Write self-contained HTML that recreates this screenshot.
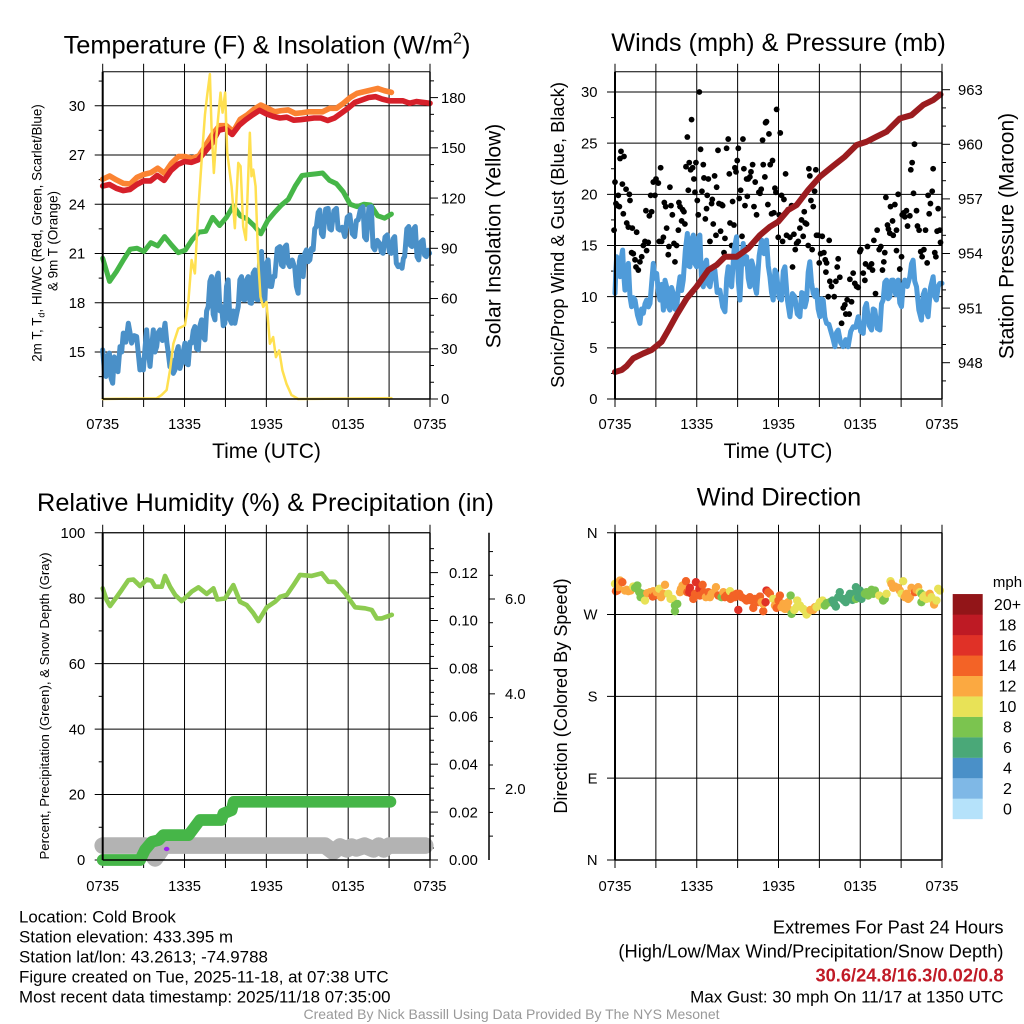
<!DOCTYPE html>
<html lang="en">
<head>
<meta charset="utf-8">
<title>Cold Brook Meteogram</title>
<style>
html,body{margin:0;padding:0;background:#fff;}
svg{display:block;font-family:"Liberation Sans",sans-serif;fill:#000;}
</style>
</head>
<body>
<svg id="chart" width="1024" height="1024" viewBox="0 0 1024 1024" xmlns="http://www.w3.org/2000/svg">
  <rect x="0" y="0" width="1024" height="1024" fill="#fff"/>
  <text x="267" y="53.5" font-size="25.4" text-anchor="middle">Temperature (F) &amp; Insolation (W/m<tspan font-size="16" dy="-10">2</tspan><tspan dy="10">)</tspan></text>
  <text x="778.5" y="51" font-size="25.3" text-anchor="middle">Winds (mph) &amp; Pressure (mb)</text>
  <text x="265.5" y="511" font-size="25.3" text-anchor="middle">Relative Humidity (%) &amp; Precipitation (in)</text>
  <text x="779" y="505.5" font-size="25.3" text-anchor="middle">Wind Direction</text>

  <text x="266.5" y="458" font-size="21" text-anchor="middle">Time (UTC)</text>
  <text x="778" y="458" font-size="21" text-anchor="middle">Time (UTC)</text>

  <text transform="translate(41.5 233) rotate(-90)" font-size="13.4" text-anchor="middle">2m T, T<tspan font-size="9" dy="3">d</tspan><tspan dy="-3">, HI/WC (Red, Green, Scarlet/Blue)</tspan></text>
  <text transform="translate(57.5 241) rotate(-90)" font-size="13.4" text-anchor="middle">&amp; 9m T (Orange)</text>
  <text transform="translate(500.5 236) rotate(-90)" font-size="21" text-anchor="middle">Solar Insolation (Yellow)</text>
  <text transform="translate(564 235) rotate(-90)" font-size="18.3" text-anchor="middle">Sonic/Prop Wind &amp; Gust (Blue, Black)</text>
  <text transform="translate(1013.5 236) rotate(-90)" font-size="21" text-anchor="middle">Station Pressure (Maroon)</text>
  <text transform="translate(49 706) rotate(-90)" font-size="13.2" text-anchor="middle">Percent, Precipitation (Green), &amp; Snow Depth (Gray)</text>
  <text transform="translate(567 696) rotate(-90)" font-size="18.1" text-anchor="middle">Direction (Colored By Speed)</text>

  <text x="19" y="922.5" font-size="16.9">Location: Cold Brook</text>
  <text x="19" y="942.5" font-size="16.9">Station elevation: 433.395 m</text>
  <text x="19" y="962.5" font-size="16.9">Station lat/lon: 43.2613; -74.9788</text>
  <text x="19" y="982.5" font-size="16.9">Figure created on Tue, 2025-11-18, at 07:38 UTC</text>
  <text x="19" y="1002.5" font-size="16.9">Most recent data timestamp: 2025/11/18 07:35:00</text>

  <text x="1003.5" y="933.5" font-size="18.3" text-anchor="end">Extremes For Past 24 Hours</text>
  <text x="1003.5" y="957.5" font-size="18.3" text-anchor="end">(High/Low/Max Wind/Precipitation/Snow Depth)</text>
  <text x="1003.5" y="981.5" font-size="18.3" font-weight="bold" fill="#c01a26" text-anchor="end">30.6/24.8/16.3/0.02/0.8</text>
  <text x="1003.5" y="1002.5" font-size="17" text-anchor="end">Max Gust: 30 mph On 11/17 at 1350 UTC</text>
  <text x="511.5" y="1019" font-size="14" fill="#999" text-anchor="middle">Created By Nick Bassill Using Data Provided By The NYS Mesonet</text>

  <text x="1007.5" y="587" font-size="15" text-anchor="middle">mph</text>
</svg>
<script>
/* ---------- shared axis labels ---------- */
const timeTickLabels = ["0735","1335","1935","0135","0735"];
const timeTickHours = [0,3,6,9,12,15,18,21,24];

/* ---------- temperature panel data ---------- */
const redTempF = [25.11,25.2,24.97,24.83,24.9,25.2,25.42,25.42,25.75,25.45,26.05,26.42,26.6,26.55,26.7,27.2,27.7,28.5,28.6,28.25,28.8,29.15,29.45,29.72,29.5,29.35,29.25,29.3,29.12,29.15,29.2,29.25,29.25,29.1,29.25,29.55,29.85,30.2,30.35,30.5,30.55,30.4,30.3,30.3,30.3,30.15,30.25,30.2,30.15];
const orangeTempF = [25.52,25.72,25.48,25.27,25.23,25.64,25.82,25.92,26.19,25.88,26.49,26.9,26.9,26.8,26.94,27.6,28.28,28.78,28.78,28.42,29.17,29.43,29.78,30.04,29.84,29.63,29.7,29.74,29.53,29.57,29.63,29.63,29.63,29.84,29.84,30.14,30.5,30.75,30.85,30.95,31.05,30.91,30.81];
const greenHeatF = [20.71,19.3,19.9,20.6,21.26,21.32,21.12,21.66,21.46,22.03,21.52,21.05,21.2,21.83,22.3,22.35,23.2,22.7,23.2,23.9,23.3,23.1,22.7,22.2,23.0,23.5,23.95,24.3,25.1,25.75,25.8,25.85,25.9,25.45,25.25,24.75,24.0,23.85,24.0,23.95,23.3,23.15,23.4];
const dewHours = [0,.12,.24,.37,.49,.61,.73,.85,.98,1.12,1.27,1.39,1.51,1.7,1.88,2,2.12,2.3,2.49,2.6,2.73,2.85,2.98,3.1,3.22,3.35,3.47,3.6,3.71,3.83,3.96,4.08,4.2,4.38,4.57,4.7,4.81,4.93,5.05,5.18,5.3,5.42,5.54,5.66,5.79,5.9,6.03,6.15,6.27,6.4,6.52,6.64,6.76,6.88,7.01,7.13,7.25,7.38,7.5,7.62,7.74,7.86,7.98,8.1,8.23,8.35,8.47,8.6,8.72,8.84,8.96,9.08,9.2,9.32,9.45,9.57,9.69,9.82,9.94,10.06,10.18,10.3,10.42,10.55,10.67,10.8,10.91,11.03,11.16,11.28,11.4,11.52,11.65,11.77,11.89,12.01,12.13,12.25,12.38,12.5,12.62,12.8,12.99,13.11,13.23,13.35,13.48,13.6,13.72,13.9,14.09,14.2,14.33,14.42,14.5,14.6,14.7,14.82,14.94,15.06,15.19,15.3,15.43,15.55,15.67,15.8,15.92,16.04,16.16,16.35,16.53,16.65,16.77,16.95,17.14,17.26,17.38,17.56,17.75,17.93,18.12,18.3,18.48,18.6,18.73,18.9,19.09,19.2,19.34,19.52,19.7,19.82,19.95,20.13,20.31,20.43,20.56,20.7,20.87,21.02,21.17,21.3,21.41,21.53,21.66,21.8,21.95,22.05,22.14,22.3,22.44,22.56,22.68,22.8,22.92,23.05,23.17,23.33,23.49,23.6,23.73,23.85,23.97];
const dewTempF = [15.13,13.9,13.51,14.8,14.93,13.4,13.1,14.7,14.52,13.8,15.33,15,16.15,15.6,16.75,16.2,15.54,16,15.94,15,13.91,14.5,13.91,15.2,16.35,15,14.12,15.4,16.35,15,15.33,16.2,16.35,15.7,16.75,15.6,14.93,14.1,14.52,13.7,13.91,15,15.33,14,14.32,15,15.54,14.3,14.22,15.6,15.54,16.3,16.55,15.2,15.13,16.6,16.96,15.9,15.74,17.5,17.77,19.3,19.59,17.3,16.96,19.5,19.8,17.5,17.77,16.6,16.75,19,19.39,17,16.75,17.5,16.75,17.3,17.77,19.4,19.59,18.2,18.17,19.4,19.59,18,17.97,19.8,20,18.2,18.17,20.9,21.12,18.3,18.17,20.4,20.61,19,18.99,19.6,19.59,21.3,21.42,20.3,20.2,21.4,21.52,20.4,20.2,20.6,20.1,19,18.58,20.5,20.81,19.7,19.59,21,21.22,20.5,20.61,21.3,21.22,22.5,22.64,23.5,23.65,22.2,22.03,23.7,23.75,22.5,22.43,23.6,23.75,22.5,22.43,22.6,22.03,23.2,23.35,22.2,22.03,23,23.04,23.7,23.85,22,21.83,23.8,23.85,21.4,21.22,21.8,21.62,21.1,21.01,22,22.13,21.1,21.01,21.9,22.03,20.4,20.2,20.3,20.1,20.7,20.81,22.5,22.64,21.5,21.42,22.5,22.64,20.8,20.61,21.7,21.83,20.9,20.81,21.2,21.01];
const solarHours = [0,3.96,4.32,4.69,4.93,5.18,5.54,6.03,6.27,6.52,6.76,7.01,7.25,7.5,7.67,7.86,7.98,8.15,8.35,8.64,8.79,8.98,9.13,9.45,9.69,9.94,10.11,10.3,10.5,10.67,10.79,10.91,11.04,11.21,11.4,11.57,11.77,12.01,12.26,12.5,12.7,12.94,13.18,13.48,13.84,14.33,21.17];
const solarWatts = [0,0.4,2.4,5.4,17,33,42,44,57,83,75,113,142,170,182,194,162,135,158,183,171,183,147,127,102,141,139,103,95,133,159,133,137,127,83,61,55,58,33,37,25,29,17,9,2.4,0,0.5];
const tempTickValues = [15,18,21,24,27,30];
const tempMinorValues = [13.5,16.5,19.5,22.5,25.5,28.5,31.5];
const solarTickValues = [0,30,60,90,120,150,180];
const solarMinorValues = [10,20,40,50,70,80,100,110,130,140,160,170,190];

/* ---------- winds panel data ---------- */
const gustHours = [-.07,0,.07,.24,.17,.32,.37,.44,.66,.54,.61,.81,.86,.98,1.05,1.1,1.27,1.22,1.34,1.47,1.59,1.54,1.71,1.83,1.96,2.08,2.2,2.32,2.44,2.27,2.52,2.69,2.62,2.81,2.93,3.01,3.18,3.25,3.42,3.35,3.55,3.62,3.72,3.79,3.91,3.96,4.03,4.11,4.21,4.33,4.4,4.52,4.65,4.69,4.77,4.89,4.96,5.06,5.13,5.21,5.31,5.38,5.45,5.62,5.55,5.7,5.79,5.87,5.94,6.04,6.11,6.19,6.28,6.38,6.48,6.53,6.63,6.72,6.85,6.77,6.97,7.09,7.14,7.21,7.31,7.41,7.46,7.56,7.63,7.75,7.82,7.9,8,8.07,8.19,8.31,8.39,8.44,8.56,8.63,8.73,8.8,8.88,8.97,9.05,9.12,9.22,9.32,9.39,9.46,9.54,9.66,9.71,9.78,9.9,9.98,10.1,10.2,10.29,10.39,10.56,10.64,10.73,10.83,10.88,11,11.12,11.05,11.22,11.3,11.39,11.49,11.56,11.66,11.74,11.81,11.86,11.98,12.05,12.13,12.22,12.3,12.4,12.52,12.59,12.71,12.84,12.96,13.03,13.13,13.23,13.33,13.45,13.57,13.69,13.81,13.89,13.96,14.06,14.18,14.23,14.3,14.38,14.47,14.55,14.65,14.74,14.79,14.91,14.99,15.09,15.21,15.33,15.43,15.53,15.48,15.65,15.72,15.77,15.89,16.09,16.21,16.31,16.38,16.5,16.63,16.75,16.87,16.94,17.04,17.19,17.24,17.36,17.48,17.6,17.73,17.85,17.97,18.04,18.22,18.34,18.39,18.53,18.66,18.83,18.9,19,19.12,19.24,19.39,19.51,19.63,19.73,19.8,19.88,20,20.07,20.17,20.22,20.37,20.42,20.54,20.66,20.66,20.78,20.9,21.03,21.08,21.2,21.27,21.39,21.47,21.64,21.71,21.81,21.91,21.98,22.13,22.2,22.32,22.44,22.54,22.67,22.79,22.91,22.98,23.06,23.15,23.28,23.35,23.47,23.55,23.64,23.72,23.84,23.89];
const gustMph = [16.5,21.2,19.1,19.9,18.9,18.8,23.5,24.2,23.7,21.0,18.1,20.5,17.2,16.8,20.0,19.4,16.7,14.3,14.2,13.6,16.3,12.9,12.6,13.4,13.9,15.0,15.4,14.5,15.3,18.4,17.9,18.3,19.9,21.2,19.9,21.5,21.1,15.4,15.4,22.6,15.8,19.2,18.8,16.7,14.1,14.9,20.7,18.9,18.0,15.2,13.4,15.0,16.5,19.2,18.8,17.4,18.5,18.3,17.1,22.7,25.6,20.4,23.1,27.3,22.4,22.6,21.5,20.2,23.1,19.4,18.0,30.0,24.4,20.3,22.9,21.6,17.6,18.6,21.5,19.9,15.4,19.1,19.5,17.1,21.8,16.0,20.7,24.3,19.1,16.4,19.0,18.9,14.3,15.7,24.5,25.4,22.0,17.2,15.0,19.3,17.0,22.6,22.2,23.3,24.5,19.6,20.4,15.9,25.4,22.5,18.9,21.5,19.8,21.5,21.7,22.2,22.9,18.8,21.2,18.0,20.2,20.1,20.5,25.3,22.9,21.7,27.1,27.0,19.0,25.9,22.9,18.1,23.3,18.2,20.6,20.2,28.3,15.8,18.0,26.0,19.9,15.4,19.5,22.0,16.0,18.5,15.8,18.9,12.9,16.1,14.6,15.2,15.4,16.7,17.5,15.9,18.3,17.2,17.1,15.0,22.5,21.8,19.4,14.6,18.8,20.3,22.4,16.0,16.0,13.3,14.2,15.9,14.3,13.6,13.3,12.4,10.0,15.5,11.5,11.0,10.0,11.5,12.9,13.7,11.9,7.4,8.9,9.2,8.3,9.7,8.3,11.7,9.5,12.3,11.3,11.0,10.9,14.4,14.6,12.3,11.6,13.2,14.9,12.9,13.2,12.6,15.5,10.3,16.5,14.6,14.9,12.6,13.4,14.3,19.7,17.0,16.6,16.2,18.8,17.4,16.0,19.0,16.5,14.5,20.0,12.7,13.9,18.0,18.2,17.8,18.4,16.9,17.9,22.4,23.1,20.1,24.9,18.4,16.9,16.5,14.4,13.9,14.6,16.5,13.3,19.9,18.1,19.1,20.3,22.5,14.3,13.9,16.4,18.6,16.5,15.3];
const windHours = [0,.06,.12,.25,.37,.46,.56,.65,.73,.85,.98,1.1,1.22,1.35,1.47,1.65,1.83,1.95,2.08,2.2,2.32,2.45,2.57,2.7,2.81,2.93,3.06,3.18,3.3,3.42,3.55,3.67,3.79,3.91,4.03,4.15,4.28,4.4,4.52,4.65,4.77,4.89,5.01,5.16,5.31,5.4,5.5,5.62,5.75,5.87,5.99,6.11,6.23,6.35,6.48,6.6,6.72,6.85,6.97,7.15,7.33,7.5,7.7,7.9,8.07,8.2,8.31,8.44,8.56,8.74,8.92,9.05,9.17,9.3,9.41,9.54,9.66,9.78,9.9,10.03,10.15,10.27,10.39,10.58,10.76,10.94,11.12,11.25,11.37,11.49,11.61,11.74,11.86,12.04,12.22,12.35,12.47,12.65,12.84,13.02,13.2,13.38,13.57,13.7,13.81,13.94,14.06,14.18,14.3,14.42,14.55,14.67,14.79,14.91,15.04,15.16,15.28,15.4,15.53,15.7,15.89,16,16.14,16.26,16.38,16.56,16.75,16.93,17.11,17.3,17.48,17.66,17.85,18.03,18.22,18.34,18.46,18.65,18.83,18.95,19.07,19.25,19.44,19.56,19.68,19.8,19.93,20.05,20.17,20.3,20.42,20.6,20.78,20.9,21.03,21.15,21.27,21.45,21.64,21.76,21.88,22,22.13,22.3,22.49,22.62,22.74,22.86,22.98,23.16,23.35,23.47,23.59,23.72,23.84,24];
const windMph = [10.32,12.5,13.9,12.8,11.95,13.8,14.55,12,10.64,12.5,13.25,10,9.02,9.9,9.67,8.2,7.39,8.8,8.37,9.3,9.67,9,9.34,11.5,13.25,11.8,12.27,10.5,9.67,11.2,8.69,11.6,10.97,9,8.69,10.9,10.32,8.8,8.69,10.8,11.95,10.6,11.62,14.5,16.18,13,12.92,15.6,16.02,13.2,12.92,15.7,16.02,11.5,10.97,13.2,13.57,11.2,10.97,12.6,12.6,10.4,10.64,9,8.53,11.8,12.92,11.3,10.97,14.6,15.85,11.5,9.67,13.5,15.2,13.2,13.9,11.8,10.97,13.5,12.92,11,10.32,14,15.53,14.2,15.53,13,11.95,10.4,9.67,12.6,12.27,9.9,9.67,12.5,12.92,9.7,8.04,10.3,9.99,8.3,8.04,10.4,10.32,9,9.67,12.4,13.41,11.4,10.32,10,10.64,8.8,8.04,9.8,9.67,8,7.39,7.3,6.41,5.9,5.11,6.5,6.74,5.5,5.11,5.8,5.11,6.6,7.06,7,8.04,6.6,6.41,8.9,9.34,7.2,6.74,8.8,8.69,6.9,6.74,9.3,9.67,11.4,11.62,9.8,9.99,11.6,11.62,10.2,11.62,9.4,9.02,11.2,11.62,11,11.95,13.2,13.57,11.5,10.97,8.7,7.71,10.2,10.64,8.5,8.04,10.9,11.95,10,9.67,11,11.3,11.3];
const pressureHours = [0,.49,.86,1.34,2.08,2.69,3.42,3.91,4.52,5.26,5.99,6.85,7.46,8.07,8.92,9.78,10.64,11.37,11.98,12.71,13.33,14.18,15.04,16.01,16.87,17.73,18.46,19.19,19.93,20.9,21.76,22.62,23.35,23.89];
const pressureMb = [947.49,947.6,947.82,948.24,948.51,948.7,949.15,949.79,950.62,951.53,952.18,953.09,953.37,953.82,953.82,954.28,955.01,955.47,955.75,956.39,956.66,957.49,958.22,958.81,959.32,959.96,960.14,960.42,960.69,961.42,961.6,962.16,962.43,962.74];
const windTickValues = [0,5,10,15,20,25,30];
const windMinorValues = [2.5,7.5,12.5,17.5,22.5,27.5];
const pressureTickValues = [948,951,954,957,960,963];
const pressureMinorValues = [947,949,950,952,953,955,956,958,959,961,962];

/* ---------- humidity panel data ---------- */
const humidityHours = [0,.29,.54,1.03,1.39,1.88,2.25,2.74,3.23,3.59,3.84,4.33,4.57,4.94,5.31,5.79,6.28,6.53,7.02,7.63,8.12,8.41,8.97,9.58,10.07,10.56,11.05,11.42,12.03,12.64,13.01,13.5,13.99,14.47,15.33,16.06,16.55,17.04,17.78,18.51,19.24,19.73,20.1,20.46,21.2];
const humidityPct = [83,79.4,77.6,80.4,82.5,85.5,85.7,83.7,85.7,85.3,83.5,83.5,86.8,83.5,81,79.1,81,82,83.3,81.3,83,79.6,79.9,84,78.9,77.9,75.4,73,77.2,78.9,80.4,81,84,87.1,86.8,87.6,85,85,81.5,77.2,76.9,76.4,73.8,73.8,74.9];
const precipHours = [0,2.74,3.1,3.6,4.1,4.45,6.3,7.13,8.7,8.85,9.45,9.6,21.1];
const precipInches = [0,0,.0042,.0076,.0083,.0104,.0104,.0167,.0167,.0194,.0208,.0243,.0243];
const snowHours = [0,3.1,3.84,4.5,16.3,16.9,17.4,17.9,18.25,18.6,19.2,19.85,20.25,20.6,21,23.65];
const snowInches = [.8,.8,.53,.8,.8,.67,.78,.72,.78,.74,.8,.72,.8,.72,.8,.8];
const purpleHours = [4.69];
const purplePct = [3.36];
const percentTickValues = [0,20,40,60,80,100];
const percentMinorValues = [10,30,50,70,90];
const precipTickValues = [0,.02,.04,.06,.08,.1,.12];
const precipTickLabels = ["0.00","0.02","0.04","0.06","0.08","0.10","0.12"];
const precipMinorValues = [.005,.01,.015,.025,.03,.035,.045,.05,.055,.065,.07,.075,.085,.09,.095,.105,.11,.115,.125,.13];
const snowTickValues = [2,4,6];
const snowTickLabels = ["2.0","4.0","6.0"];
const snowMinorValues = [1,1.5,2.5,3,3.5,4.5,5,5.5,6.5,7];

/* ---------- direction panel data ---------- */
const directionHours = [0,.07,.17,.37,.54,.73,.98,1.15,1.34,1.64,1.78,2.03,2.2,2.57,2.76,2.81,3.06,3.25,3.38,3.67,3.91,4.08,4.23,4.4,4.4,4.57,4.77,4.96,5.21,5.31,5.45,5.62,5.75,5.94,6.19,6.43,6.67,6.85,7.09,7.41,7.58,7.82,7.95,8.19,8.44,8.48,8.8,9.05,9.12,9.29,9.54,9.78,10.02,10.15,10.27,10.51,10.64,10.88,10.88,11.05,11.12,11.37,11.61,11.74,11.86,12.1,12.35,12.54,12.71,12.89,12.71,12.96,13.16,13.37,13.57,13.81,14.06,14.35,14.55,14.79,15.04,15.23,15.4,15.77,15.97,16.21,16.5,16.7,16.94,17.24,17.43,17.68,17.85,17.68,18.09,18.34,18.58,18.83,19.07,19.39,19.68,19.93,20.22,20.29,20.54,20.78,21.03,21.15,21.27,21.52,21.76,22.01,22.25,22.49,22.49,22.74,23.1,23.35,23.42,23.72,23.84,.24,.86,1.47,1.88,2.37,2.93,3.55,4.84,5.06,5.5,5.87,6.23,6.53,6.97,7.26,8.07,8.68,8.92,9.66,9.9,10.39,10.76,11.25,12.0,12.22,12.47,13.33,13.94,14.18,14.67,14.91,15.53,16.09,16.38,16.82,17.11,17.55,17.97,18.46,18.95,19.56,19.8,20.42,20.9,21.39,21.64,22.13,22.37,22.62,22.86,23.23,23.59];
const directionDeg = [303.8,295.7,296.4,307.4,305.6,296.4,295.7,296.4,300.8,301.9,294.6,292.8,285.4,294.6,289.8,295.7,294.6,298.3,289.1,302.7,292.8,287.2,287.2,279.9,273.7,281.7,294.6,301.9,306.7,294.6,294.6,292.8,287.2,305.6,298.3,302.7,289.1,294.6,292.8,300.1,290.9,289.1,294.6,290.9,295.7,287.2,289.1,275.1,292.8,289.1,287.2,287.2,285.4,277.3,287.2,283.6,289.8,273.7,281.7,283.6,296.4,292.8,287.2,279.9,277.3,290.9,281.7,281.7,283.6,290.9,276.2,270.7,275.1,285.4,279.9,276.2,270,275.1,275.1,278.1,283.6,285.4,279.9,283.6,285.4,278.8,294.6,287.2,283.6,292.8,286.1,300.1,289.1,287.2,287.2,292.8,290.9,297.2,296.4,290.9,285.4,292.8,306.7,303.8,300.8,299.4,292.8,306.7,289.1,287.2,299.4,294.6,300.1,292.8,283.6,290.9,292.8,285.4,281,298.3,296.4,300.1,297.2,299.4,289.1,293.5,290.9,292.8,298.3,296.4,299.4,292.8,290.9,294.6,289.1,294.6,289.1,290.9,292.8,285.4,289.1,285.4,283.6,294.6,285.4,278.1,276.2,278.1,274.4,272.6,278.1,279.9,282.5,281.7,289.1,285.4,289.1,292.8,296.4,294.6,292.8,289.1,287.2,299.4,296.4,292.8,289.1,297.2,294.6,289.1,287.2,289.1,285.4];
const directionSpeed = [10,14,15,12,14,12,12,12,10,8,8,8,10,12,14,12,12,10,12,12,10,10,10,8,8,8,12,12,14,15,17,17,15,17,17,15,12,14,12,12,14,8,12,14,10,14,14,17,14,14,14,14,14,14,14,14,14,14,12,17,17,15,10,12,14,15,12,12,12,8,12,8,10,10,10,10,10,12,12,10,10,10,8,8,6,6,6,6,6,6,6,6,6,8,6,8,8,8,8,10,8,10,10,12,12,12,10,10,12,12,12,15,12,8,8,10,12,10,12,10,10,12,12,8,8,12,14,12,12,12,17,14,15,14,12,12,14,14,14,14,14,14,12,14,14,12,12,10,10,10,12,10,8,6,6,6,6,6,6,8,8,10,8,12,12,12,12,12,10,10,10,10,10];
const directionTickValues = [0,90,180,270,360];
const directionTickLabels = ["N","E","S","W","N"];

/* ---------- colorbar data ---------- */
const colorbarLabels = ["0","2","4","6","8","10","12","14","16","18","20+"];
const colorbarColors = ["#b5e2fa","#7fb8e6","#4a90c8","#4aa878","#7bc44f","#e8e257","#fba941","#f36326","#e03127","#be1a24","#921518"];

/* ---------- drawing helpers ---------- */
const NS = "http://www.w3.org/2000/svg";
const svg = document.getElementById("chart");
function scale(d0, d1, p0, p1) { return v => p0 + (v - d0) * (p1 - p0) / (d1 - d0); }
function mk(tag, attrs, parent) {
  const e = document.createElementNS(NS, tag);
  for (const k in attrs) e.setAttribute(k, attrs[k]);
  (parent || svg).appendChild(e);
  return e;
}
function evenTimes(n, end) { return Array.from({length:n}, (_, i) => i * end / (n - 1)); }
function seg(parent, x1, y1, x2, y2, w, name) {
  const e = mk("line", {x1, y1, x2, y2, stroke:"#000", "stroke-width":w}, parent);
  
  
  return e;
}
function label(parent, x, y, str, anchor, name, size) {
  const e = mk("text", {x, y, "font-size":size || 14.8, "text-anchor":anchor}, parent);
  e.textContent = str;
  
  
  return e;
}
function series(parent, times, vals, sx, sy, color, width, name) {
  const n = Math.min(times.length, vals.length);
  const pts = [];
  for (let i = 0; i < n; i++) pts.push(sx(times[i]).toFixed(2) + "," + sy(vals[i]).toFixed(2));
  const e = mk("polyline", {points:pts.join(" "), fill:"none", stroke:color, "stroke-width":width, "stroke-linecap":"round", "stroke-linejoin":"round"}, parent);
  
  
  return e;
}
function drawTimeGrid(g, sx, top, bottom) {
  timeTickHours.forEach(h => seg(g, sx(h), top - 8, sx(h), bottom + 8, 1, "time-grid-line"));
}
function drawTimeLabels(g, sx, y) {
  timeTickHours.forEach((h, i) => {
    if (i % 2 === 0) label(g, sx(h), y, timeTickLabels[i / 2], "middle", "time-tick-label");
  });
}
function drawLeftAxis(g, sy, left, right, vals, minors, labels, name) {
  vals.forEach((v, i) => {
    seg(g, left - 8, sy(v), right, sy(v), 1, name + "-grid-line");
    label(g, left - 17.5, sy(v) + 5.2, labels ? labels[i] : String(v), "end", name + "-tick-label");
  });
  minors.forEach(v => seg(g, left - 4, sy(v), left, sy(v), 1, name + "-minor-tick"));
}
function drawRightAxis(g, sy, x, vals, minors, labels, name, offset) {
  vals.forEach((v, i) => {
    seg(g, x, sy(v), x + 8, sy(v), 1, name + "-tick");
    label(g, x + offset, sy(v) + 5.2, labels ? labels[i] : String(v), "start", name + "-tick-label");
  });
  minors.forEach(v => {
    if (sy(v) >= 71 ) seg(g, x, sy(v), x + 4, sy(v), 1, name + "-minor-tick");
  });
}
function drawFrame(g, l, t, r, b, rightWidth) {
  seg(g, l, t, r, t, 1, "plot-top-edge");
  seg(g, l, b, r, b, 1.4, "plot-bottom-edge");
  seg(g, l, t, l, b, 2, "plot-left-edge");
  seg(g, r, t, r, b, rightWidth, "plot-right-edge");
}
function panelGroup(name) {
  const g = mk("g", {});
  
  
  return g;
}

/* ---------- temperature panel ---------- */
(function () {
  const L = 102.7, R = 430, T = 71.7, B = 399;
  const g = panelGroup("temperature-panel");
  const x = scale(0, 24, L, R);
  const yT = scale(15, 30, 352, 105.7);
  const yS = scale(0, 180, 399, 97.6);
  drawTimeGrid(g, x, T, B);
  drawLeftAxis(g, yT, L, R, tempTickValues, tempMinorValues, null, "temperature");
  drawRightAxis(g, yS, R, solarTickValues, solarMinorValues, null, "insolation", 11);
  drawTimeLabels(g, x, 429);
  series(g, evenTimes(orangeTempF.length, 21.17), orangeTempF, x, yT, "#fb8332", 5.6, "nine-meter-temperature-line");
  series(g, evenTimes(redTempF.length, 24), redTempF, x, yT, "#d6202a", 5.6, "two-meter-temperature-line");
  series(g, evenTimes(greenHeatF.length, 21.17), greenHeatF, x, yT, "#46b648", 5, "dewpoint-green-line");
  series(g, dewHours, dewTempF, x, yT, "#4a90c8", 5, "wind-chill-blue-line");
  series(g, solarHours, solarWatts, x, yS, "#ffe050", 2.5, "solar-insolation-line");
  drawFrame(g, L, T, R, B, 1.5);
})();

/* ---------- winds panel ---------- */
(function () {
  const L = 615, R = 942, T = 71.7, B = 399;
  const g = panelGroup("winds-panel");
  const x = scale(0, 24, L, R);
  const yW = scale(0, 30, 399, 92);
  const yP = scale(948, 963, 362.7, 89.7);
  drawTimeGrid(g, x, T, B);
  drawLeftAxis(g, yW, L, R, windTickValues, windMinorValues, null, "wind");
  drawRightAxis(g, yP, R, pressureTickValues, pressureMinorValues, null, "pressure", 16);
  drawTimeLabels(g, x, 429);
  gustMph.forEach((v, i) => {
    const dot = mk("circle", {cx:x(gustHours[i]).toFixed(2), cy:yW(v).toFixed(2), r:2.9, fill:"#000"}, g);
    
    
  });
  series(g, windHours, windMph, x, yW, "#4f9bd9", 5, "sustained-wind-line");
  series(g, pressureHours, pressureMb, x, yP, "#9b1c1f", 6, "station-pressure-line");
  drawFrame(g, L, T, R, B, 1.5);
})();

/* ---------- humidity panel ---------- */
(function () {
  const L = 102.7, R = 430, T = 532.7, B = 860;
  const g = panelGroup("humidity-panel");
  const x = scale(0, 24, L, R);
  const yH = scale(0, 100, 860, 532.7);
  const yP = scale(0, .12, 860, 572.6);
  const yS = scale(2, 6, 788.7, 599);
  drawTimeGrid(g, x, T, B);
  drawLeftAxis(g, yH, L, R, percentTickValues, percentMinorValues, null, "percent");
  drawRightAxis(g, yP, R, precipTickValues, precipMinorValues, precipTickLabels, "precipitation", 19);
  drawTimeLabels(g, x, 891);
  series(g, humidityHours, humidityPct, x, yH, "#8dcb50", 4.6, "relative-humidity-line");
  series(g, snowHours, snowInches, x, yS, "#b3b3b3", 16.6, "snow-depth-line");
  series(g, precipHours, precipInches, x, yP, "#46b648", 11.7, "precipitation-line");
  purpleHours.forEach((h, i) => {
    const dot = mk("ellipse", {cx:x(h).toFixed(2), cy:yH(purplePct[i]).toFixed(2), rx:2.8, ry:2.2, fill:"#a020f0"}, g);
    
    
  });
  drawFrame(g, L, T, R, B, 1.5);
  seg(g, 489, T, 489, B, 1.5, "snow-depth-axis-line");
  snowTickValues.forEach((v, i) => {
    seg(g, 489, yS(v), 495, yS(v), 1, "snow-depth-tick");
    label(g, 505, yS(v) + 5.2, snowTickLabels[i], "start", "snow-depth-tick-label");
  });
  snowMinorValues.forEach(v => seg(g, 489, yS(v), 493, yS(v), 1, "snow-depth-minor-tick"));
})();

/* ---------- direction panel ---------- */
(function () {
  const L = 615, R = 942, T = 532.7, B = 860;
  const g = panelGroup("direction-panel");
  const x = scale(0, 24, L, R);
  const y = scale(0, 360, 860, 532.7);
  drawTimeGrid(g, x, T, B);
  drawLeftAxis(g, y, L, R, directionTickValues, [], directionTickLabels, "direction");
  drawTimeLabels(g, x, 891);
  const order = directionDeg.map((_, i) => i).sort((a, b) => directionHours[a] - directionHours[b]);
  order.forEach(i => {
    const bin = Math.min(10, Math.floor(directionSpeed[i] / 2));
    const dot = mk("circle", {cx:x(directionHours[i]).toFixed(2), cy:y(directionDeg[i]).toFixed(2), r:4.2, fill:colorbarColors[bin]}, g);
    
    
  });
  drawFrame(g, L, T, R, B, 1.5);

  const bar = panelGroup("speed-colorbar");
  colorbarColors.forEach((c, i) => {
    const yTop = 819 - (i + 1) * 20.45;
    const cell = mk("rect", {x:952.7, y:yTop.toFixed(2), width:30, height:20.6, fill:c}, bar);
    
    
    label(bar, 1007.5, yTop + 15.8, colorbarLabels[i], "middle", "colorbar-label", 16);
  });
})();
</script>
</body>
</html>
